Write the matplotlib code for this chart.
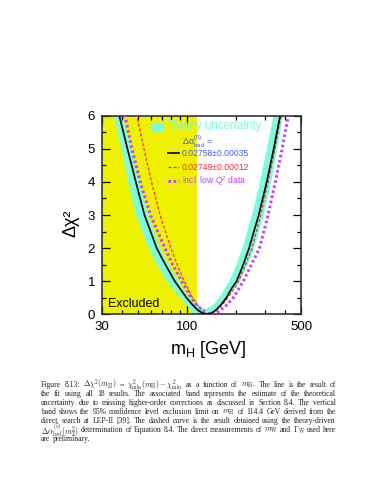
import numpy as np
import matplotlib
matplotlib.use('Agg')
import matplotlib.pyplot as plt
from matplotlib.patches import Rectangle
from matplotlib.lines import Line2D
from matplotlib.ticker import FixedLocator, NullFormatter

plt.rcParams['font.family'] = ['Liberation Sans', 'DejaVu Sans']
plt.rcParams['mathtext.fontset'] = 'custom'
plt.rcParams['mathtext.rm'] = 'Liberation Sans'
plt.rcParams['mathtext.it'] = 'Liberation Sans:italic'

# fit curves (m_H in GeV, delta chi2)
black_mass = [35.0, 38.3, 43.0, 48.4, 54.7, 65.0, 73.5, 84.0, 99.0, 108.3, 116.6, 124.5, 132.0,
              140.0, 149.5, 160.9, 174.0, 188.0, 201.0, 221.0, 240.0, 275.0, 308.0, 340.0, 372.0, 400.0]
black_chi2 = [6.8, 6.0, 5.0, 4.0, 3.0, 2.0, 1.5, 1.0, 0.5, 0.28, 0.12, 0.03, 0.0,
              0.03, 0.12, 0.28, 0.5, 0.79, 1.0, 1.5, 2.0, 3.0, 4.0, 5.0, 6.0, 6.8]

red_mass = [45.7, 49.1, 54.3, 60.4, 68.2, 79.3, 86.9, 95.9, 107.9, 116.7, 123.8, 131.0, 137.0,
            143.0, 150.0, 162.0, 178.0, 196.0, 207.0, 228.0, 250.0, 283.0, 314.0, 346.0, 377.0, 403.0]
red_chi2 = [6.8, 6.0, 5.0, 4.0, 3.0, 2.0, 1.5, 1.0, 0.5, 0.25, 0.1, 0.02, 0.0,
            0.02, 0.1, 0.25, 0.5, 0.8, 1.0, 1.5, 2.0, 3.0, 4.0, 5.0, 6.0, 6.8]

purple_mass = [39.3, 41.5, 45.8, 51.5, 59.5, 73.0, 81.5, 92.5, 106.0, 116.0, 126.0, 135.0, 142.0,
               149.0, 158.0, 172.0, 192.0, 221.0, 248.0, 278.0, 314.0, 348.0, 383.0, 418.0, 450.0]
purple_chi2 = [6.8, 6.0, 5.0, 4.0, 3.0, 2.0, 1.5, 1.0, 0.5, 0.25, 0.1, 0.02, 0.0,
               0.02, 0.1, 0.25, 0.5, 1.0, 1.5, 2.0, 3.0, 4.0, 5.0, 6.0, 6.8]

# theory band edges
outer_left_mass = [33.5, 35.5, 39.5, 43.5, 48.5, 58.0, 65.5, 75.0, 84.0, 91.0, 100.0, 106.0, 110.0]
outer_left_chi2 = [6.8, 6.0, 5.0, 4.0, 3.0, 2.0, 1.5, 1.0, 0.7, 0.5, 0.25, 0.1, 0.0]
outer_right_mass = [142.0, 150.0, 160.0, 178.0, 192.0, 211.0, 236.0, 258.0, 295.0, 328.0, 358.0, 388.0, 412.0]
outer_right_chi2 = [0.0, 0.1, 0.25, 0.5, 0.75, 1.0, 1.5, 2.0, 3.0, 4.0, 5.0, 6.0, 6.8]
inner_right_mass = [364.0, 339.0, 309.0, 280.0, 250.0, 218.0, 201.0, 181.0, 169.0, 157.0, 146.0, 129.0]
inner_right_chi2 = [6.8, 6.0, 5.0, 4.0, 3.0, 2.0, 1.5, 1.0, 0.75, 0.5, 0.3, 0.15]
inner_left_mass = [113.0, 104.0, 96.0, 88.2, 77.2, 68.2, 57.4, 50.8, 45.2, 40.2, 36.8]
inner_left_chi2 = [0.3, 0.5, 0.7, 1.0, 1.5, 2.0, 3.0, 4.0, 5.0, 6.0, 6.8]

lep_limit = 114.4
x_major = [30, 100, 500]
x_minor = [40, 50, 60, 70, 80, 90, 200, 300, 400]

band_col = '#7CFCDC'
yellow = '#EEF200'
blue = '#4A5CF0'
red = '#FF2A2A'
purple = '#C040FF'

fig = plt.figure(figsize=(3.74, 4.84), dpi=100)
ax = fig.add_axes([102/374, 1-314.3/484, 199/374, 198.6/484])

ax.axvspan(30, lep_limit, color=yellow, lw=0, zorder=0)
bx = outer_left_mass + outer_right_mass + inner_right_mass + inner_left_mass
by = outer_left_chi2 + outer_right_chi2 + inner_right_chi2 + inner_left_chi2
ax.fill(bx, by, color=band_col, lw=0, zorder=1)

ax.plot(black_mass, black_chi2, color='black', lw=1.2, zorder=4)
ax.plot(red_mass, red_chi2, color=red, lw=0.9, ls=(0, (2.5, 1.5)), zorder=3)
ax.plot(purple_mass, purple_chi2, color=purple, lw=2.2, ls=(0, (0.8, 0.9)), zorder=3)

ax.set_xscale('log')
ax.set_xlim(30, 500)
ax.set_ylim(0, 6)
ax.xaxis.set_major_locator(FixedLocator(x_major))
ax.xaxis.set_minor_locator(FixedLocator(x_minor))
ax.xaxis.set_minor_formatter(NullFormatter())
ax.set_xticklabels([str(v) for v in x_major])
ax.set_yticks(range(7))
ax.yaxis.set_minor_locator(FixedLocator(np.arange(0.5, 6, 1.0)))
ax.tick_params(which='both', direction='in', top=True, right=True, labelsize=9.5, width=0.9)
ax.tick_params(which='major', length=6, pad=5)
ax.tick_params(which='minor', length=3)
for s in ax.spines.values():
    s.set_linewidth(1.2)
    s.set_color('#333333')

ax.text(0.03, 0.05, 'Excluded', transform=ax.transAxes, fontsize=9, va='center', ha='left', zorder=6)

# legend drawn by hand
ax.add_patch(Rectangle((0.25, 0.9245), 0.058, 0.040, transform=ax.transAxes, color=band_col, zorder=6))
ax.text(0.3236, 0.950, 'Theory uncertainty', transform=ax.transAxes, color=band_col,
        fontsize=8.3, va='center', ha='left', zorder=6)
ax.text(0.4005, 0.869, r'$\mathregular{\Delta\alpha^{(5)}_{had}}$ =', transform=ax.transAxes,
        color=blue, fontsize=6.5, va='center', ha='left', zorder=6)
ax.add_line(Line2D([0.3317, 0.3869], [0.8107, 0.8107], transform=ax.transAxes, color='black', lw=1.2, zorder=6))
ax.text(0.4005, 0.8107, '0.02758\u00b10.00035', transform=ax.transAxes, color=blue,
        fontsize=6.2, va='center', ha='left', zorder=6)
ax.add_line(Line2D([0.3317, 0.3869], [0.740, 0.740], transform=ax.transAxes, color=red, lw=0.9,
                   ls=(0, (2.5, 1.5)), zorder=6))
ax.text(0.4005, 0.740, '0.02749\u00b10.00012', transform=ax.transAxes, color=red,
        fontsize=6.2, va='center', ha='left', zorder=6)
ax.add_line(Line2D([0.3317, 0.3869], [0.671, 0.671], transform=ax.transAxes, color=purple, lw=2.2,
                   ls=(0, (0.8, 0.9)), zorder=6))
ax.text(0.4005, 0.671, r'incl. low Q$^\mathregular{2}$ data', transform=ax.transAxes, color=purple,
        fontsize=6.2, va='center', ha='left', zorder=6)

fig.text(71/374, 1-223/484, '\u0394\u03c7\u00b2', rotation=90, ha='center', va='center', fontsize=13)
fig.text(208/374, 1-349/484, r'm$_\mathregular{H}$ [GeV]', ha='center', va='center', fontsize=13)

# caption, justified word by word
caption = [
    r'Figure 8.13: $\Delta\chi^2(m_\mathrm{H})$ = $\chi^2_\mathrm{min}(m_\mathrm{H})-\chi^2_\mathrm{min}$ as a function of $m_\mathrm{H}$. The line is the result of',
    'the fit using all 18 results. The associated band represents the estimate of the theoretical',
    'uncertainty due to missing higher-order corrections as discussed in Section 8.4. The vertical',
    r'band shows the 95% confidence level exclusion limit on $m_\mathrm{H}$ of 114.4 GeV derived from the',
    'direct search at LEP-II [39]. The dashed curve is the result obtained using the theory-driven',
    r'$\Delta\alpha^{(5)}_\mathrm{had}(m^2_\mathrm{Z})$ determination of Equation 8.4. The direct measurements of $m_\mathrm{W}$ and $\Gamma_\mathrm{W}$ used here',
    'are preliminary.',
]
cap_y = [385, 394, 403, 412, 421, 430.3, 439.3]
x0, x1 = 41, 336
cap_size = 5.5
renderer = fig.canvas.get_renderer()
for i, (line, y) in enumerate(zip(caption, cap_y)):
    words = line.split(' ')
    texts = [fig.text(0, 1-y/484, w, ha='left', va='center', fontsize=cap_size,
                      family='Liberation Serif', math_fontfamily='cm', color='#222222')
             for w in words]
    widths = [t.get_window_extent(renderer).width for t in texts]
    if i == len(caption) - 1:
        gap = 0.3 * cap_size * 100 / 72
    else:
        gap = (x1 - x0 - sum(widths)) / (len(words) - 1)
    x = x0
    for t, w in zip(texts, widths):
        t.set_x(x/374)
        x += w + gap

fig.savefig('out.png', dpi=100)
